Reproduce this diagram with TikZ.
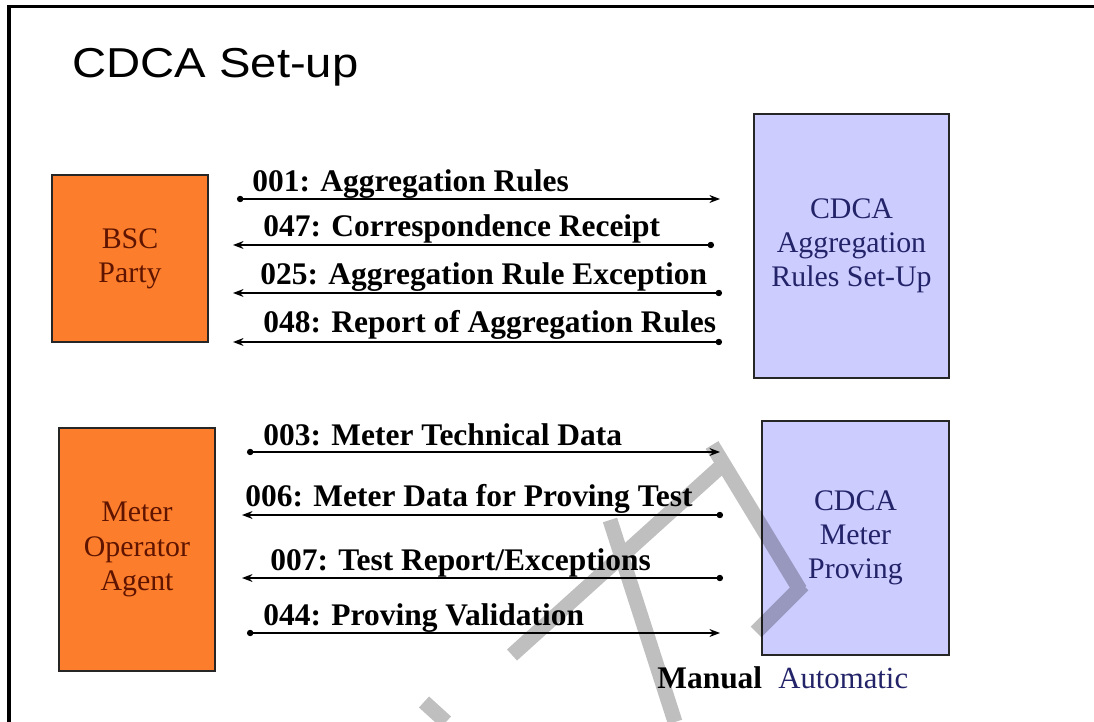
\documentclass[tikz,border=0pt]{standalone}
\usepackage{fontspec}
\setmainfont{Liberation Serif}
\newfontfamily\titlefont{Liberation Sans}
\usetikzlibrary{arrows.meta}
\definecolor{orangebox}{RGB}{252,126,44}
\definecolor{lavbox}{RGB}{204,204,255}
\definecolor{browntext}{RGB}{95,20,0}
\definecolor{navytext}{RGB}{35,35,105}
\begin{document}
\begin{tikzpicture}[x=0.02cm,y=-0.02cm,
  box/.style={draw=black!85, line width=0.9pt, inner sep=0pt, align=center,
    font=\fontsize{17}{19.5}\selectfont},
  actor/.style={box, fill=orangebox, text=browntext},
  system/.style={box, fill=lavbox, text=navytext},
  lbl/.style={font=\fontsize{17.9}{20}\selectfont\bfseries, anchor=base west, inner sep=0pt},
  msg/.style={line width=0.9pt},
  outmsg/.style={msg, {Circle[length=3.6pt]}-{Stealth[length=6pt,width=4.5pt]}},
  inmsg/.style={msg, {Stealth[length=6pt,width=4.5pt]}-{Circle[length=3.6pt]}},
  wm/.style={line width=8.5pt, black}
]
\useasboundingbox (0,0) rectangle (1094,722);
% frame
\draw[line width=1.8pt] (9,722) -- (9,6.5) -- (1094,6.5);
% title
\node[anchor=base west, inner sep=0pt, font=\titlefont\fontsize{23.8}{28}\selectfont] (title) at (72,78) {\scalebox{1.13}[1]{CDCA Set-up}};

% boxes
\node[actor, minimum width=3.12cm, minimum height=3.34cm] (bsc) at (130,258.5) {BSC\\Party};
\node[system, minimum width=3.9cm, minimum height=5.28cm] (agg) at (851.5,246) {CDCA\\Aggregation\\Rules Set-Up};
\node[actor, minimum width=3.12cm, minimum height=4.86cm] (moa) at (137,549.5) {Meter\\Operator\\Agent};
\node[system, minimum width=3.74cm, minimum height=4.68cm] (prov) at (855.5,538) {CDCA\\Meter\\Proving};

% watermark
\begin{scope}[transparency group, opacity=0.25]
\draw[wm] (728,460) -- (512,655);
\draw[wm] (712,445) -- (800,590);
\draw[wm] (803,585) -- (756,632);
\draw[wm] (610,520) -- (675,722);
\draw[wm] (424,702) -- (446,722);
\end{scope}

% connector end points
\coordinate (c001a) at (237,199); \coordinate (c001b) at (720,199);
\coordinate (c047a) at (233,245); \coordinate (c047b) at (714,245);
\coordinate (c025a) at (233,293); \coordinate (c025b) at (722,293);
\coordinate (c048a) at (233,342); \coordinate (c048b) at (722,342);
\coordinate (c003a) at (247,452); \coordinate (c003b) at (720,452);
\coordinate (c006a) at (242,515); \coordinate (c006b) at (723,515);
\coordinate (c007a) at (242,578); \coordinate (c007b) at (723,578);
\coordinate (c044a) at (247,633); \coordinate (c044b) at (720,633);

\draw[outmsg] (c001a) -- (c001b);
\draw[inmsg] (c047a) -- (c047b);
\draw[inmsg] (c025a) -- (c025b);
\draw[inmsg] (c048a) -- (c048b);
\draw[outmsg] (c003a) -- (c003b);
\draw[inmsg] (c006a) -- (c006b);
\draw[inmsg] (c007a) -- (c007b);
\draw[outmsg] (c044a) -- (c044b);

% labels
\node[lbl] (l001) at (252,192) {001: Aggregation Rules};
\node[lbl] (l047) at (263,237) {047: Correspondence Receipt};
\node[lbl] (l025) at (260,285) {025: Aggregation Rule Exception};
\node[lbl] (l048) at (263,333) {048: Report of Aggregation Rules};
\node[lbl] (l003) at (263,445) {003: Meter Technical Data};
\node[lbl] (l006) at (245,506) {006: Meter Data for Proving Test};
\node[lbl] (l007) at (270,570) {007: Test Report/Exceptions};
\node[lbl] (l044) at (263,625) {044: Proving Validation};

% legend
\node[lbl] (manual) at (657,688) {Manual};
\node[lbl, font=\fontsize{17.5}{20}\selectfont, text=navytext] (auto) at (778,688) {Automatic};
\end{tikzpicture}
\end{document}
